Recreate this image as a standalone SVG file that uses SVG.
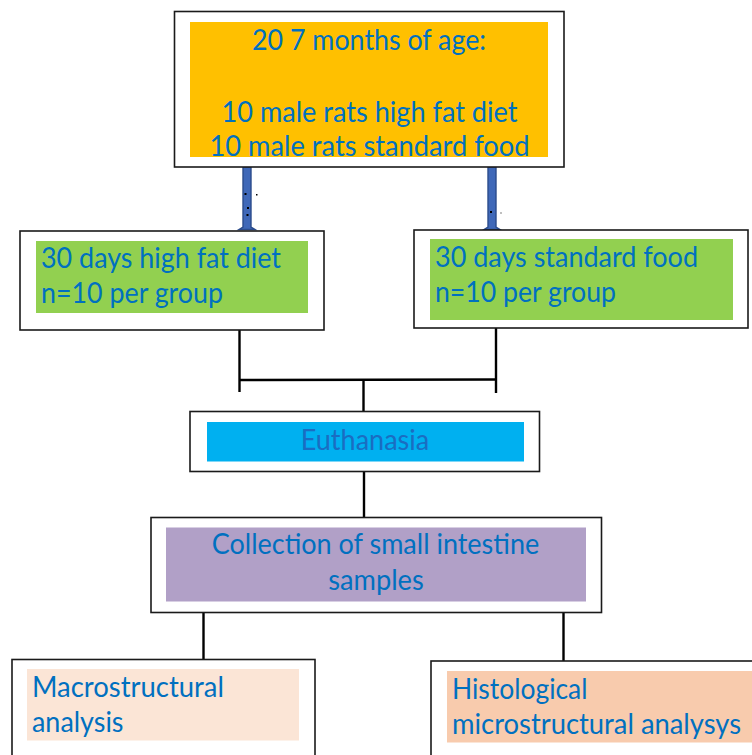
<svg xmlns="http://www.w3.org/2000/svg" width="752" height="755" viewBox="0 0 752 755">
<style>
.frame{fill:#ffffff;stroke:#1a1a1a;stroke-width:1.6}
.t{font-family:Lato,"Open Sans","Liberation Sans",sans-serif;font-size:28px;fill:#0070C0}
.c{text-anchor:middle}
.ln{stroke:#000000;stroke-width:2.4;fill:none}
.arrow{fill:#3F68B8;stroke:#2B4C8C;stroke-width:1.4}
</style>
<rect width="752" height="755" fill="#ffffff"/>
<g id="connectors">
  <path class="arrow" d="M243,167 H251 V227 L255,229.5 H239 L243,227 Z"/>
  <path class="arrow" d="M488,167 H496 V227 L500,229.5 H484 L488,227 Z"/>
  <rect x="244.5" y="193" width="2" height="2" fill="#000"/>
  <rect x="256" y="194" width="1.5" height="1.5" fill="#000"/>
  <rect x="247" y="207" width="2" height="2" fill="#000"/>
  <rect x="246.5" y="214" width="2" height="2" fill="#000"/>
  <rect x="490" y="211" width="2" height="2" fill="#000"/>
  <rect x="500.5" y="212.5" width="1" height="1" fill="#000"/>
  <line class="ln" x1="239.5" y1="317" x2="239.5" y2="392"/>
  <line class="ln" x1="496" y1="318" x2="496" y2="393"/>
  <line class="ln" x1="239.5" y1="380" x2="496" y2="379.5"/>
  <line class="ln" x1="363.5" y1="380" x2="363.5" y2="411.5"/>
  <line class="ln" x1="364" y1="464" x2="364" y2="517"/>
  <line class="ln" x1="203.5" y1="599" x2="203.5" y2="659.5"/>
  <line class="ln" x1="563.5" y1="600.5" x2="563.5" y2="661"/>
</g>
<g id="node-start">
  <rect class="frame" x="174.5" y="11.5" width="389.5" height="155.5"/>
  <rect x="190" y="22" width="358" height="135" fill="#FFC000"/>
  <text class="t c" x="369" y="50" textLength="234" lengthAdjust="spacingAndGlyphs">20 7 months of age:</text>
  <text class="t c" x="369.5" y="122" textLength="296" lengthAdjust="spacingAndGlyphs">10 male rats high fat diet</text>
  <text class="t c" x="369.5" y="156" textLength="320" lengthAdjust="spacingAndGlyphs">10 male rats standard food</text>
</g>
<g id="node-highfat">
  <rect class="frame" x="20" y="231" width="304" height="99"/>
  <rect x="36" y="241" width="272" height="72" fill="#92D050"/>
  <text class="t" x="41" y="268" textLength="240" lengthAdjust="spacingAndGlyphs">30 days high fat diet</text>
  <text class="t" x="41" y="303" textLength="182" lengthAdjust="spacingAndGlyphs">n=10 per group</text>
</g>
<g id="node-standard">
  <rect class="frame" x="414" y="230" width="334" height="98"/>
  <rect x="430" y="239" width="303" height="81" fill="#92D050"/>
  <text class="t" x="435" y="267" textLength="263" lengthAdjust="spacingAndGlyphs">30 days standard food</text>
  <text class="t" x="435" y="302" textLength="181" lengthAdjust="spacingAndGlyphs">n=10 per group</text>
</g>
<g id="node-euthanasia">
  <rect class="frame" x="190" y="411.5" width="349.5" height="60"/>
  <rect x="207" y="422" width="317" height="39.5" fill="#00B0F0"/>
  <text class="t c" x="365" y="449.5" textLength="128.5" lengthAdjust="spacingAndGlyphs" style="fill:#1A6DC2">Euthanasia</text>
</g>
<g id="node-collection">
  <rect class="frame" x="151" y="517.5" width="450.5" height="95"/>
  <rect x="166" y="527.5" width="420" height="74" fill="#B1A0C7"/>
  <text class="t c" x="375.5" y="554" textLength="327.5" lengthAdjust="spacingAndGlyphs">Collection of small intestine</text>
  <text class="t c" x="376" y="590" textLength="95.5" lengthAdjust="spacingAndGlyphs">samples</text>
</g>
<g id="node-macro">
  <rect class="frame" x="12" y="659.5" width="303" height="110"/>
  <rect x="27" y="669" width="272" height="71.5" fill="#FBE5D6"/>
  <text class="t" x="32" y="696.5" textLength="192" lengthAdjust="spacingAndGlyphs">Macrostructural</text>
  <text class="t" x="32" y="731.5" textLength="91.5" lengthAdjust="spacingAndGlyphs">analysis</text>
</g>
<g id="node-histo">
  <rect class="frame" x="431" y="661" width="340" height="110"/>
  <rect x="447" y="671" width="310" height="71.5" fill="#F8CBAD"/>
  <text class="t" x="452" y="699" textLength="135.5" lengthAdjust="spacingAndGlyphs">Histological</text>
  <text class="t" x="452" y="733.5" textLength="289" lengthAdjust="spacingAndGlyphs">microstructural analysys</text>
</g>
</svg>
